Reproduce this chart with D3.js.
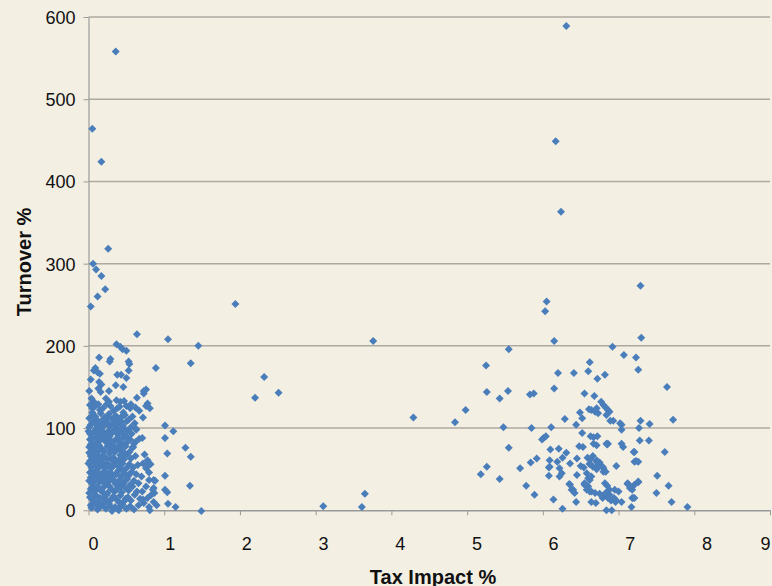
<!DOCTYPE html>
<html><head><meta charset="utf-8">
<script src="https://cdn.jsdelivr.net/npm/d3@7"></script>
<style>
html,body{margin:0;padding:0;background:#f3efe3;}
svg{display:block;}
text{font-family:"Liberation Sans",Arial,Helvetica,sans-serif;fill:#111;}
</style></head>
<body>
<svg id="chart" width="772" height="586"></svg>
<script>
// ---- DATA (Tax Impact %, Turnover %) ----
const xTicks = [0,1,2,3,4,5,6,7,8,9];
const yTicks = [0,100,200,300,400,500,600];
const xTitle = "Tax Impact %";
const yTitle = "Turnover %";

// dense low-tax cluster
const lowBlob = [
[0.02,128],[0.08,126],[0.13,129],[0.19,124],[0.29,127],[0.33,121],[0.41,126],[0.46,119],[0.55,124],[0.05,119],
[0.01,112],[0.06,116],[0.11,110],[0.16,118],[0.21,113],[0.27,117],[0.31,111],[0.36,115],[0.42,112],[0.48,116],[0.53,110],[0.58,114],
[0.03,104],[0.07,108],[0.12,101],[0.15,106],[0.20,103],[0.24,108],[0.28,102],[0.33,106],[0.38,100],[0.40,107],[0.45,103],[0.50,108],[0.56,101],[0.61,106],
[0.00,96],[0.04,92],[0.09,98],[0.13,93],[0.17,97],[0.22,91],[0.26,96],[0.30,93],[0.34,98],[0.39,92],[0.43,96],[0.47,91],[0.52,97],[0.57,93],[0.63,99],
[0.02,86],[0.06,82],[0.10,88],[0.14,84],[0.18,89],[0.23,83],[0.27,87],[0.32,81],[0.36,86],[0.41,83],[0.46,88],[0.50,82],[0.55,86],[0.60,81],
[0.01,77],[0.05,73],[0.09,79],[0.12,71],[0.16,76],[0.21,72],[0.25,78],[0.29,74],[0.35,71],[0.38,77],[0.44,73],[0.49,78],[0.54,71],[0.58,76],
[0.03,66],[0.07,62],[0.11,68],[0.15,61],[0.19,67],[0.24,63],[0.28,69],[0.33,64],[0.37,60],[0.42,67],[0.47,62],[0.51,68],[0.56,63],[0.62,66],
[0.00,57],[0.04,52],[0.08,58],[0.13,54],[0.17,59],[0.22,51],[0.26,56],[0.31,52],[0.35,58],[0.40,53],[0.45,57],[0.50,51],[0.54,56],[0.59,52],[0.65,55],
[0.02,46],[0.06,42],[0.10,48],[0.15,44],[0.20,47],[0.23,41],[0.29,46],[0.34,43],[0.39,48],[0.43,41],[0.48,45],[0.53,42],[0.57,47],[0.63,44],
[0.01,36],[0.05,32],[0.09,38],[0.14,34],[0.18,39],[0.22,31],[0.27,35],[0.32,38],[0.36,32],[0.41,37],[0.46,33],[0.51,38],[0.55,31],[0.60,36],[0.66,33],
[0.03,26],[0.07,22],[0.11,28],[0.16,24],[0.21,29],[0.25,21],[0.30,26],[0.34,23],[0.39,28],[0.44,22],[0.49,27],[0.53,24],[0.58,29],[0.64,23],
[0.02,16],[0.06,12],[0.10,18],[0.13,11],[0.19,15],[0.24,19],[0.28,12],[0.33,17],[0.37,13],[0.42,18],[0.47,11],[0.52,16],[0.56,12],[0.61,19],[0.68,14],
[0.04,3],[0.09,8],[0.12,1],[0.18,6],[0.23,2],[0.27,8],[0.31,-1],[0.35,4],[0.40,0],[0.45,7],[0.50,2],[0.55,5],[0.60,1],[0.66,6]
];

// further points inside the dense cluster
const lowBlobFill = [
[0.05,124],[0.15,122],[0.24,129],[0.38,124],[0.50,127],
[0.09,114],[0.19,110],[0.25,114],[0.34,110],[0.45,115],
[0.01,101],[0.10,104],[0.18,100],[0.26,105],[0.36,103],[0.43,108],[0.48,99],
[0.02,93],[0.07,95],[0.15,91],[0.20,95],[0.28,90],[0.37,95],[0.45,94],[0.50,90],
[0.04,88],[0.12,86],[0.21,86],[0.30,84],[0.39,88],[0.44,80],
[0.03,80],[0.08,76],[0.14,79],[0.19,73],[0.27,80],[0.33,76],[0.41,74],[0.47,70],
[0.01,70],[0.06,67],[0.13,64],[0.21,65],[0.30,62],[0.40,61],[0.45,66],
[0.02,60],[0.10,55],[0.15,53],[0.20,57],[0.28,53],[0.33,55],[0.43,51],
[0.04,47],[0.08,44],[0.12,41],[0.18,43],[0.26,45],[0.31,42],[0.37,44],[0.45,48],
[0.03,40],[0.07,35],[0.12,37],[0.20,34],[0.25,38],[0.34,35],[0.39,33],[0.48,36],
[0.05,28],[0.09,24],[0.14,27],[0.19,22],[0.28,29],[0.37,25],[0.42,29],
[0.01,21],[0.08,17],[0.15,15],[0.22,13],[0.31,14],[0.40,10],[0.49,14],
[0.06,8],[0.15,4],[0.21,9],[0.29,5],[0.38,2],[0.43,5]
];

// sparser low-tax points and outliers
const lowSparse = [
[0.36,558],[0.05,464],[0.17,424],[0.26,318],[0.06,300],[0.10,293],[0.17,285],[0.22,269],[0.12,260],[0.03,248],
[0.64,214],[0.37,202],[0.42,199],[0.45,196],[0.50,194],[0.14,186],[0.29,184],[0.28,181],[0.53,181],[0.54,178],
[0.09,173],[0.89,173],[0.53,170],[0.07,170],[0.12,168],[0.15,166],[0.38,165],[0.43,165],[0.50,161],[0.03,159],
[0.14,156],[0.17,153],[0.36,152],[0.46,150],[0.01,145],[0.13,148],[0.16,144],[0.27,145],[0.76,147],[0.73,142],
[0.64,137],[0.04,136],[0.07,132],[0.23,136],[0.27,132],[0.37,134],[0.42,132],[0.47,133],[0.56,129],[0.78,130],
[0.62,125],[0.67,121],[0.76,127],[0.81,124],[0.72,113],[0.73,145],[0.71,88],[0.67,87],[0.62,83],[0.59,77],
[0.63,98],[0.74,68],[0.78,61],[0.72,57],[0.76,51],[0.79,55],[0.80,46],[0.70,41],[0.80,37],[0.88,36],[0.76,29],
[0.71,23],[0.85,25],[0.78,15],[0.72,13],[0.73,9],[0.80,4],[0.81,0],[0.03,6],[0.14,4]
];

// mid-range tax points
const midSparse = [
[1.05,208],[1.45,200],[1.35,179],[1.94,251],[1.01,103],[1.12,96],[1.01,88],[1.28,76],[1.04,69],[1.35,65],
[0.82,56],[1.01,42],[0.86,37],[1.34,30],[1.01,25],[1.04,22],[0.86,27],[0.87,21],[0.83,19],[0.86,10],
[0.90,6],[1.05,8],[1.15,4],[1.49,-1],[2.32,162],[2.20,137],[2.51,143],[3.10,5],[3.61,4],[3.65,20],
[3.76,206],[4.29,113],[4.84,107],[4.98,122]
];

// high-tax cluster
const highCluster = [
[5.25,176],[5.26,144],[5.43,136],[5.48,101],[5.18,44],[5.26,53],[5.43,38],[5.55,76],[5.54,145],[5.55,196],
[6.31,589],[6.17,449],[6.24,363],[6.05,254],[6.03,242],[6.15,206],[7.29,273],[7.30,210],[6.92,199],[7.07,189],
[7.23,186],[6.62,180],[6.20,167],[6.41,167],[6.60,169],[6.72,160],[6.82,165],[7.26,171],
[5.83,141],[5.88,142],[6.15,148],[6.55,142],[6.68,139],[6.49,119],[6.61,123],[6.64,122],[6.69,120],[6.73,118],
[6.52,112],[6.29,111],[6.44,104],[5.85,100],[6.11,101],[6.52,94],[6.04,90],[6.01,88],[5.99,86],[6.63,90],
[6.67,89],[6.72,90],[6.10,74],[6.21,75],[6.31,70],[6.48,78],[6.53,77],[6.67,81],[6.71,79],[6.26,64],
[6.09,61],[5.92,63],[5.84,58],[5.70,51],[6.08,52],[6.19,59],[6.22,51],[6.36,57],[6.45,63],[6.59,64],
[6.63,62],[6.50,54],[6.54,52],[6.62,56],[6.66,53],[6.71,50],[6.73,55],[6.08,42],[6.22,41],[6.25,45],
[6.45,43],[6.58,45],[6.60,39],[6.64,41],[5.78,30],[6.35,32],[6.40,25],[6.42,21],[6.55,33],[6.60,29],
[6.62,23],[6.69,21],[5.89,19],[6.14,13],[6.44,10],[6.26,2],[6.64,10],[6.70,9],
[7.64,150],[6.77,132],[6.80,128],[6.83,125],[6.86,122],[6.88,120],[6.71,124],[6.84,116],[6.89,109],[6.93,109],
[7.02,106],[7.29,109],[7.41,105],[7.72,110],[7.27,100],[7.04,98],[7.28,85],[7.40,85],[7.04,81],[7.06,77],
[6.85,80],[7.21,71],[7.61,71],[6.66,66],[6.71,61],[6.75,58],[6.79,53],[6.80,47],[6.97,54],[7.21,59],
[7.26,59],[7.51,42],[7.26,34],[7.12,32],[7.17,28],[7.18,25],[7.66,30],[7.50,21],[6.82,33],[6.85,30],
[6.88,25],[6.83,21],[6.88,19],[6.95,25],[7.00,23],[7.19,15],[7.04,10],[6.94,13],[6.96,10],[7.70,10],
[7.91,4],[7.17,4],[6.84,0],[6.91,0],[6.09,53],[6.36,31],[6.38,25],[6.84,81],[6.86,81],[6.62,57],
[6.71,59],[6.75,55],[6.80,51],[6.83,47],[6.62,37],[6.55,31],[6.58,25],[6.64,23],[6.75,20],[6.79,15],
[6.82,19],[6.86,15],[6.90,12],[6.94,15],[6.97,12],[7.12,33],[7.15,27],[7.21,31],[7.26,35],[7.18,15],
[7.21,15],[7.04,104],[7.20,71],[7.23,60]
];

// ---- CHART ----
const W = 772, H = 586;
const m = {left: 88.5, right: 2, top: 17, bottom: 75.7};
const svg = d3.select("#chart");
const x = d3.scaleLinear().domain([0, 9]).range([m.left, W - m.right]);
const y = d3.scaleLinear().domain([0, 600]).range([H - m.bottom, m.top]);
const xLabelPos = d3.scaleLinear().domain([0, 8]).range([93.5, 707]);

svg.append("rect").attr("width", W).attr("height", H).attr("fill", "#f3efe3");

// gridlines
svg.append("g").selectAll("line").data(yTicks.filter(d => d > 0)).join("line")
  .attr("x1", x(0)).attr("x2", x(9))
  .attr("y1", d => y(d)).attr("y2", d => y(d))
  .attr("stroke", "#aeaaa2").attr("stroke-width", 1.5);

// y axis
const yAxis = svg.append("g").attr("transform", `translate(${x(0)},0)`)
  .call(d3.axisLeft(y).tickValues(yTicks).tickSize(5).tickSizeOuter(0).tickPadding(8));
yAxis.select(".domain").attr("stroke", "#9a9a9a").attr("stroke-width", 1.2);
yAxis.selectAll(".tick line").attr("stroke", "#9a9a9a");
yAxis.selectAll(".tick text").attr("font-size", 18).attr("fill", "#111")
  .attr("font-family", '"Liberation Sans",Arial,Helvetica,sans-serif').attr("dy", "0.36em");

// x axis
const xAxis = svg.append("g").attr("transform", `translate(0,${y(0)})`)
  .call(d3.axisBottom(x).tickValues(xTicks).tickSize(5).tickSizeOuter(0).tickFormat(""));
xAxis.select(".domain").attr("stroke", "#9a9a9a").attr("stroke-width", 1.5);
xAxis.selectAll(".tick line").attr("stroke", "#9a9a9a");

svg.append("g").selectAll("text").data(xTicks).join("text")
  .attr("x", d => Math.min(xLabelPos(d), 765.5))
  .attr("y", 550)
  .attr("text-anchor", "middle")
  .attr("font-size", 18)
  .text(d => d);

// titles
svg.append("text").attr("x", 433).attr("y", 583.5).attr("text-anchor", "middle")
  .attr("font-size", 20).attr("font-weight", "bold").text(xTitle);
svg.append("text").attr("transform", "translate(30.5,262) rotate(-90)")
  .attr("text-anchor", "middle").attr("font-size", 20).attr("font-weight", "bold").text(yTitle);

// points
const allPts = [...lowBlob, ...lowBlobFill, ...lowSparse, ...midSparse, ...highCluster];
const sym = d3.symbol().type(d3.symbolSquare).size(32);
svg.append("g").selectAll("path").data(allPts).join("path")
  .attr("d", sym)
  .attr("transform", d => `translate(${x(d[0])},${y(d[1])}) rotate(45)`)
  .attr("fill", "#4a7ebb");
</script>
</body></html>
